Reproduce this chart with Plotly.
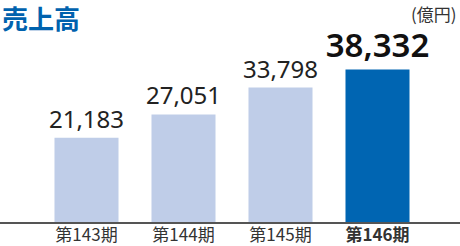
import plotly.graph_objects as go

categories = ["第143期", "第144期", "第145期", "第146期"]
values = [21183, 27051, 33798, 38332]
value_labels = ["21,183", "27,051", "33,798", "38,332"]
tick_labels = ["第143期", "第144期", "第145期", "<b>第146期</b>"]

light = "#BFCDE8"
dark = "#0065B2"
colors = [light, light, light, dark]

W, H = 460, 246
mt, mb = 40, 24
plot_h = H - mt - mb
per_px = 251.5
ymax = plot_h * per_px

step = 97.0
c0 = 86.5
xr = [-c0 / step, (W - c0) / step]

fig = go.Figure()
fig.add_trace(go.Bar(
    x=categories, y=values, marker=dict(color=colors, line=dict(width=0)),
    text=value_labels, textposition="outside", cliponaxis=False, constraintext="none",
    textfont=dict(family="Noto Sans", size=[24, 24, 24, 33], color=["#222", "#222", "#222", "#111"],
                  weight=[400, 400, 400, 600]),
    width=0.66,
))
fig.update_layout(
    width=W, height=H, margin=dict(l=0, r=0, t=mt, b=mb, autoexpand=False),
    paper_bgcolor="white", plot_bgcolor="white", showlegend=False,
    xaxis=dict(range=xr, tickmode="array", tickvals=categories, ticktext=tick_labels,
               showline=True, linecolor="#555", linewidth=2, ticks="", showgrid=False,
               automargin=False, ticklabelstandoff=-3,
               tickfont=dict(family="Noto Sans CJK JP", size=17, color="#333")),
    yaxis=dict(range=[0, ymax], visible=False, showgrid=False, zeroline=False),
    annotations=[
        dict(text="<b>売上高</b>", xref="paper", yref="paper", x=0, y=1, xanchor="left", yanchor="top",
             yshift=mt + 3, showarrow=False, font=dict(family="Noto Sans CJK JP", size=26, color="#0062AE")),
        dict(text="(億円)", xref="paper", yref="paper", x=1, y=1, xanchor="right", yanchor="top",
             xshift=-1, yshift=mt + 1, showarrow=False, font=dict(family="Noto Sans CJK JP", size=17, color="#333")),
    ],
)
fig.write_html("out.html")
